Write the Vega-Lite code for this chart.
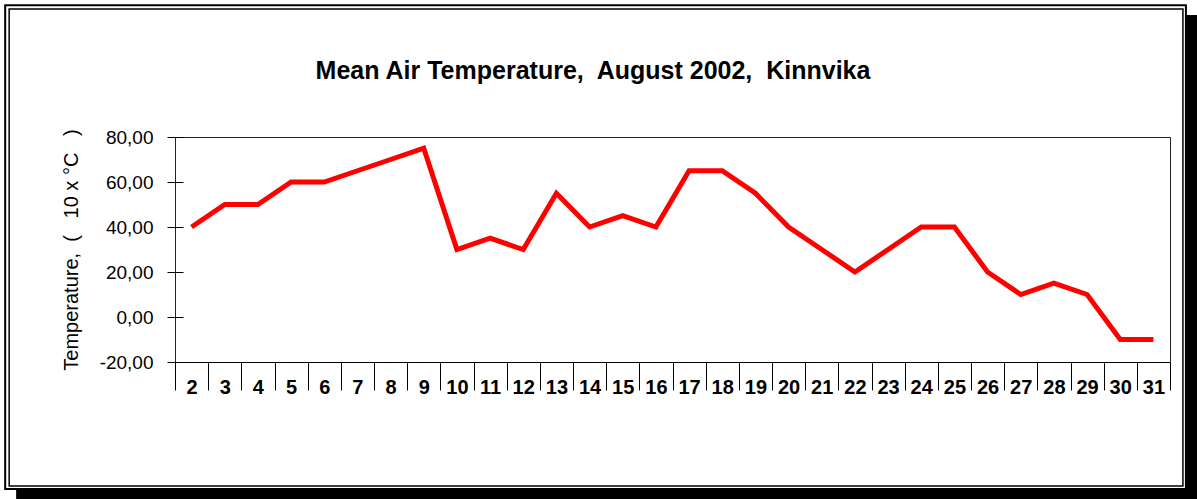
{
  "$schema": "https://vega.github.io/schema/vega-lite/v6.json",
  "width": 995,
  "height": 225,
  "autosize": "none",
  "padding": {"left": 175, "top": 137, "right": 27, "bottom": 137},
  "background": "white",
  "config": {
    "font": "Liberation Sans",
    "view": {"stroke": "#222", "strokeWidth": 1}
  },
  "title": {
    "text": "Mean Air Temperature,\u00a0 August 2002,\u00a0 Kinnvika",
    "fontSize": 25,
    "fontWeight": "bold",
    "color": "#000",
    "anchor": "middle",
    "frame": "group",
    "offset": -100,
    "baseline": "alphabetic",
    "dx": -79.5
  },
  "data": {
    "values": [
      {"day": 2, "temp": 40}, {"day": 3, "temp": 50}, {"day": 4, "temp": 50},
      {"day": 5, "temp": 60}, {"day": 6, "temp": 60}, {"day": 7, "temp": 65},
      {"day": 8, "temp": 70}, {"day": 9, "temp": 75}, {"day": 10, "temp": 30},
      {"day": 11, "temp": 35}, {"day": 12, "temp": 30}, {"day": 13, "temp": 55},
      {"day": 14, "temp": 40}, {"day": 15, "temp": 45}, {"day": 16, "temp": 40},
      {"day": 17, "temp": 65}, {"day": 18, "temp": 65}, {"day": 19, "temp": 55},
      {"day": 20, "temp": 40}, {"day": 21, "temp": 30}, {"day": 22, "temp": 20},
      {"day": 23, "temp": 30}, {"day": 24, "temp": 40}, {"day": 25, "temp": 40},
      {"day": 26, "temp": 20}, {"day": 27, "temp": 10}, {"day": 28, "temp": 15},
      {"day": 29, "temp": 10}, {"day": 30, "temp": -10}, {"day": 31, "temp": -10}
    ]
  },
  "layer": [
    {
      "mark": {"type": "line", "color": "#ff0000", "strokeWidth": 5, "strokeJoin": "miter"},
      "encoding": {
        "x": {
          "field": "day",
          "type": "quantitative",
          "scale": {"domain": [1.5, 31.5], "nice": false, "zero": false},
          "axis": {
            "title": null,
            "values": [1.5, 2.5, 3.5, 4.5, 5.5, 6.5, 7.5, 8.5, 9.5, 10.5, 11.5, 12.5, 13.5, 14.5, 15.5, 16.5, 17.5, 18.5, 19.5, 20.5, 21.5, 22.5, 23.5, 24.5, 25.5, 26.5, 27.5, 28.5, 29.5, 30.5, 31.5],
            "tickCount": 40,
            "grid": false,
            "tickSize": 28,
            "tickColor": "#000",
            "domainColor": "#000",
            "labelExpr": "datum.value < 31 ? format(datum.value + 0.5, 'd') : ''",
            "labelOffset": 16.58,
            "labelFontSize": 20,
            "labelFontWeight": "bold",
            "labelColor": "#000",
            "labelBaseline": "alphabetic",
            "labelPadding": 3,
            "labelOverlap": false,
            "labelFlush": false
          }
        },
        "y": {
          "field": "temp",
          "type": "quantitative",
          "scale": {"domain": [-20, 80], "nice": false, "zero": false},
          "axis": {
            "title": "Temperature,\u00a0\u00a0(\u00a0\u00a0\u00a010\u00a0x\u00a0°C\u00a0\u00a0\u00a0)",
            "values": [-20, 0, 20, 40, 60, 80],
            "tickCount": 6,
            "grid": false,
            "offset": -8,
            "domain": false,
            "tickSize": 16,
            "tickColor": "#000",
            "labelPadding": 14,
            "labelFontSize": 19,
            "labelColor": "#000",
            "labelExpr": "(datum.value < 0 ? '-' : '') + replace(format(abs(datum.value), '.2f'), '.', ',')",
            "titleFontSize": 20,
            "titleFontWeight": "normal",
            "titleColor": "#000",
            "titlePadding": 18
          }
        }
      }
    },
    {
      "data": {"values": [{}]},
      "mark": {"type": "rect", "color": "#000", "clip": false},
      "encoding": {
        "x": {"datum": 31.98, "type": "quantitative"},
        "x2": {"datum": 32.7},
        "y": {"datum": 134.2, "type": "quantitative"},
        "y2": {"datum": -86}
      }
    },
    {
      "data": {"values": [{}]},
      "mark": {"type": "rect", "color": "#000", "clip": false},
      "encoding": {
        "x": {"datum": -3.29, "type": "quantitative"},
        "x2": {"datum": 32.7},
        "y": {"datum": -76.44, "type": "quantitative"},
        "y2": {"datum": -86}
      }
    },
    {
      "data": {"values": [{}]},
      "mark": {"type": "rect", "filled": false, "stroke": "#000", "strokeWidth": 2, "clip": false},
      "encoding": {
        "x": {"datum": -3.62, "type": "quantitative"},
        "x2": {"datum": 31.98},
        "y": {"datum": 138.6, "type": "quantitative"},
        "y2": {"datum": -76.44}
      }
    },
    {
      "data": {"values": [{}]},
      "mark": {"type": "rect", "filled": false, "stroke": "#000", "strokeWidth": 1.5, "clip": false},
      "encoding": {
        "x": {"datum": -3.5, "type": "quantitative"},
        "x2": {"datum": 31.89},
        "y": {"datum": 136.9, "type": "quantitative"},
        "y2": {"datum": -75.1}
      }
    }
  ]
}
